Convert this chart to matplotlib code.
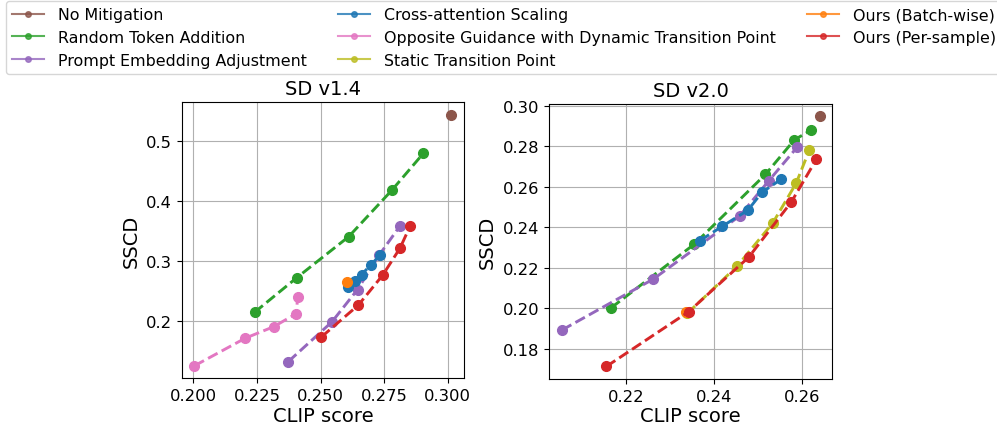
"""
CLIP score vs SSCD trade-off for memorization mitigation methods,
SD v1.4 and SD v2.0 side by side with a shared legend on top.
"""

import matplotlib
matplotlib.use("Agg")
import matplotlib.pyplot as plt
from matplotlib.lines import Line2D

# ---- SD v1.4 ----------------------------------------------------------------
v14_no_mitigation_clip = [0.3013]
v14_no_mitigation_sscd = [0.544]

v14_random_token_clip = [0.2240, 0.2407, 0.2610, 0.2779, 0.2904]
v14_random_token_sscd = [0.215, 0.273, 0.341, 0.418, 0.480]

v14_prompt_embed_clip = [0.2373, 0.2544, 0.2645, 0.2731, 0.2812]
v14_prompt_embed_sscd = [0.133, 0.199, 0.253, 0.311, 0.359]

v14_cross_attn_clip = [0.2608, 0.2634, 0.2661, 0.2697, 0.2733]
v14_cross_attn_sscd = [0.257, 0.267, 0.278, 0.294, 0.310]

v14_opposite_clip = [0.2004, 0.2204, 0.2315, 0.2405, 0.2409]
v14_opposite_sscd = [0.126, 0.172, 0.191, 0.213, 0.240]

v14_batch_clip = [0.2603]
v14_batch_sscd = [0.265]

v14_per_sample_clip = [0.2503, 0.2648, 0.2744, 0.2812, 0.2852]
v14_per_sample_sscd = [0.174, 0.227, 0.277, 0.322, 0.359]

# ---- SD v2.0 ----------------------------------------------------------------
v20_no_mitigation_clip = [0.2640]
v20_no_mitigation_sscd = [0.2948]

v20_random_token_clip = [0.2166, 0.2355, 0.2517, 0.2583, 0.2621]
v20_random_token_sscd = [0.2003, 0.2317, 0.2662, 0.2833, 0.2881]

v20_prompt_embed_clip = [0.2054, 0.2262, 0.2458, 0.2524, 0.2589]
v20_prompt_embed_sscd = [0.1893, 0.2145, 0.2456, 0.2629, 0.2796]

v20_cross_attn_clip = [0.2368, 0.2419, 0.2477, 0.2509, 0.2552]
v20_cross_attn_sscd = [0.2335, 0.2406, 0.2485, 0.2573, 0.2637]

v20_static_clip = [0.2339, 0.2452, 0.2534, 0.2587, 0.2617]
v20_static_sscd = [0.1975, 0.2207, 0.2423, 0.2619, 0.2783]

v20_batch_clip = [0.2336]
v20_batch_sscd = [0.1981]

v20_per_sample_clip = [0.2155, 0.2342, 0.2479, 0.2576, 0.2633]
v20_per_sample_sscd = [0.1713, 0.1983, 0.2253, 0.2526, 0.2737]

METHOD_LABELS = [
    "No Mitigation",
    "Random Token Addition",
    "Prompt Embedding Adjustment",
    "Cross-attention Scaling",
    "Opposite Guidance with Dynamic Transition Point",
    "Static Transition Point",
    "Ours (Batch-wise)",
    "Ours (Per-sample)",
]

METHOD_COLORS = {
    "No Mitigation": "#8c564b",
    "Random Token Addition": "#2ca02c",
    "Prompt Embedding Adjustment": "#9467bd",
    "Cross-attention Scaling": "#1f77b4",
    "Opposite Guidance with Dynamic Transition Point": "#e377c2",
    "Static Transition Point": "#bcbd22",
    "Ours (Batch-wise)": "#ff7f0e",
    "Ours (Per-sample)": "#d62728",
}

v14_series = [
    ("No Mitigation", v14_no_mitigation_clip, v14_no_mitigation_sscd),
    ("Random Token Addition", v14_random_token_clip, v14_random_token_sscd),
    ("Prompt Embedding Adjustment", v14_prompt_embed_clip, v14_prompt_embed_sscd),
    ("Cross-attention Scaling", v14_cross_attn_clip, v14_cross_attn_sscd),
    ("Opposite Guidance with Dynamic Transition Point", v14_opposite_clip, v14_opposite_sscd),
    ("Ours (Batch-wise)", v14_batch_clip, v14_batch_sscd),
    ("Ours (Per-sample)", v14_per_sample_clip, v14_per_sample_sscd),
]

v20_series = [
    ("No Mitigation", v20_no_mitigation_clip, v20_no_mitigation_sscd),
    ("Random Token Addition", v20_random_token_clip, v20_random_token_sscd),
    ("Prompt Embedding Adjustment", v20_prompt_embed_clip, v20_prompt_embed_sscd),
    ("Cross-attention Scaling", v20_cross_attn_clip, v20_cross_attn_sscd),
    ("Static Transition Point", v20_static_clip, v20_static_sscd),
    ("Ours (Batch-wise)", v20_batch_clip, v20_batch_sscd),
    ("Ours (Per-sample)", v20_per_sample_clip, v20_per_sample_sscd),
]

TICK_SIZE = 11.8
LABEL_SIZE = 14


def draw_panel(axis, series, title):
    for method, clip_scores, sscd_scores in series:
        axis.plot(
            clip_scores,
            sscd_scores,
            linestyle="--",
            linewidth=2.1,
            marker="o",
            markersize=7,
            color=METHOD_COLORS[method],
        )
    axis.grid(True)
    axis.set_axisbelow(True)
    axis.set_title(title, fontsize=LABEL_SIZE)
    axis.set_xlabel("CLIP score", fontsize=LABEL_SIZE, labelpad=2)
    axis.set_ylabel("SSCD", fontsize=LABEL_SIZE)
    axis.tick_params(labelsize=TICK_SIZE)


figure = plt.figure(figsize=(9.97, 4.27), dpi=100)
left_axis = figure.add_axes([0.1822, 0.1117, 0.2832, 0.6464])
right_axis = figure.add_axes([0.5507, 0.1101, 0.2842, 0.6440])

draw_panel(left_axis, v14_series, "SD v1.4")
left_axis.set_xticks([0.200, 0.225, 0.250, 0.275, 0.300])
left_axis.set_yticks([0.2, 0.3, 0.4, 0.5])

draw_panel(right_axis, v20_series, "SD v2.0")
right_axis.set_xticks([0.22, 0.24, 0.26])
right_axis.set_yticks([0.18, 0.20, 0.22, 0.24, 0.26, 0.28, 0.30])

legend_handles = [
    Line2D([], [], color=METHOD_COLORS[m], marker="o", markersize=4, alpha=0.8, label=m)
    for m in METHOD_LABELS
]
figure.legend(
    handles=legend_handles,
    loc="upper left",
    bbox_to_anchor=(0.006, 0.996),
    borderaxespad=0,
    ncol=3,
    fontsize=11.45,
    handletextpad=0.85,
)

figure.savefig("out.png", dpi=100)
